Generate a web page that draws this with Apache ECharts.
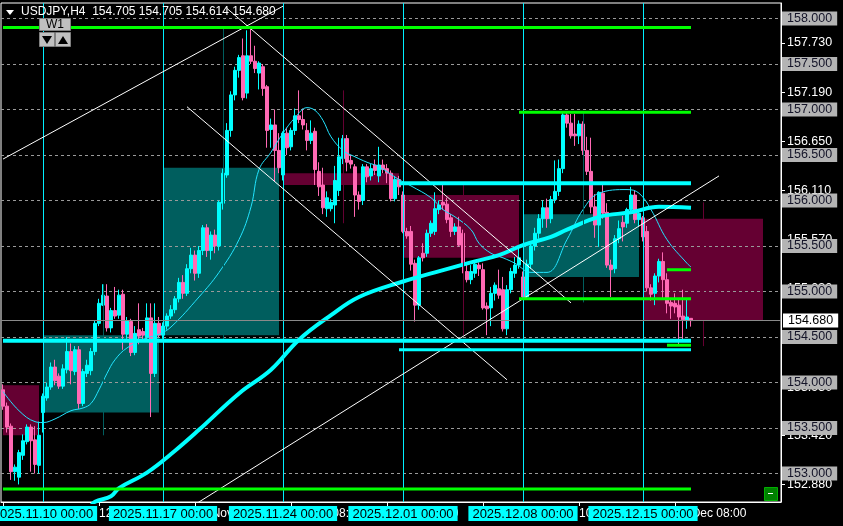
<!DOCTYPE html>
<html><head><meta charset="utf-8">
<script src="https://cdn.jsdelivr.net/npm/echarts@6/dist/echarts.min.js"></script>
<style>html,body{margin:0;padding:0;background:#000;}#c{width:843px;height:526px;}</style>
</head><body><div id="c"></div>
<script>
// ---------------- DATA ----------------
const symbolName = 'USDJPY,H4';
const opens = [153.92,153.74,153.52,153.02,152.96,153.20,153.35,153.51,153.37,153.09,
153.67,153.83,153.95,154.17,154.07,153.96,154.14,154.34,154.12,154.36,153.77,154.10,154.13,154.34,154.65,154.85,154.95,154.60,154.79,154.74,154.97,154.53,154.67,154.33,154.58,154.56,154.50,154.71,154.10,154.65,
154.52,154.62,154.73,154.80,154.92,155.10,154.98,155.25,155.40,155.20,155.45,155.70,155.45,155.62,155.50,155.97,156.28,156.77,157.16,157.43,157.59,157.18,157.59,157.53,157.40,157.47,157.25,156.78,156.83,156.55,
156.28,156.74,156.59,156.77,156.93,156.89,156.77,156.66,156.76,156.32,156.17,155.91,155.91,155.95,156.11,156.46,156.68,156.44,156.37,156.06,156.00,156.37,156.27,156.39,156.27,156.39,156.35,156.30,156.02,156.23,
156.06,155.66,155.66,155.31,154.85,155.42,155.42,155.64,155.66,155.90,155.98,155.96,155.81,155.66,155.71,155.64,155.22,155.13,155.20,155.29,155.24,154.84,154.82,154.98,155.03,155.02,154.59,155.02,155.20,155.29,
155.16,154.94,155.30,155.50,155.64,155.80,155.92,155.80,156.01,156.10,156.35,156.94,156.85,156.73,156.71,156.84,156.55,156.32,155.93,155.73,156.08,155.87,155.29,155.25,155.58,155.76,155.75,155.90,156.06,155.79,
155.81,155.66,155.04,154.98,155.17,155.33,155.13,154.88,154.87,154.85,154.73,154.68,154.705];
const highs = [153.98,153.78,153.55,153.10,153.26,153.43,153.54,153.54,153.52,153.57,
153.88,154.00,154.22,154.25,154.10,154.20,154.50,154.43,154.40,154.40,154.15,154.25,154.38,154.68,154.92,155.08,155.08,154.82,155.05,155.02,155.02,154.72,154.70,154.62,154.87,154.60,154.87,154.87,154.87,154.72,
154.66,154.76,154.85,154.95,155.15,155.18,155.30,155.48,155.45,155.50,155.73,155.74,155.66,155.68,156.00,156.35,156.85,157.20,157.47,157.60,157.78,157.87,157.89,157.70,157.53,157.50,157.27,156.90,157.00,156.74,
156.76,156.80,156.80,157.01,157.21,157.01,156.85,156.88,156.80,156.42,156.36,156.10,156.02,156.38,156.69,156.72,156.72,156.50,156.40,156.10,156.40,156.40,156.40,156.45,156.59,156.45,156.40,156.33,156.27,156.27,
156.10,155.70,155.72,155.35,155.39,155.53,155.68,155.78,156.09,156.00,156.17,156.03,155.85,155.75,155.82,155.68,155.30,155.29,155.33,155.32,155.31,154.88,155.05,155.10,155.24,155.16,155.07,155.26,155.38,155.50,
155.22,155.35,155.55,155.70,155.85,156.00,156.02,156.05,156.44,156.45,156.96,156.96,156.95,156.95,156.88,156.87,156.70,156.69,156.07,156.10,156.17,155.97,155.35,155.62,155.78,155.83,155.92,156.15,156.11,155.90,
155.83,155.72,155.08,155.20,155.36,155.43,155.20,154.93,154.98,154.92,155.02,154.92,154.705];
const lows = [153.70,153.45,152.93,152.92,152.88,153.15,153.32,153.02,153.00,153.00,
153.45,153.80,153.92,153.97,153.93,153.93,154.10,153.98,154.08,153.71,153.74,154.06,154.08,154.30,154.62,154.84,154.56,154.55,154.70,154.70,154.36,154.48,154.29,154.30,154.42,154.46,154.47,153.62,154.06,154.50,
154.48,154.58,154.70,154.76,154.88,154.92,154.95,155.20,155.12,155.15,155.40,155.38,155.35,155.42,155.45,155.90,156.25,156.70,157.10,157.35,157.10,157.12,157.50,157.40,157.22,157.15,156.58,156.58,156.21,156.30,
156.22,156.50,156.55,156.72,156.85,156.78,156.55,156.62,156.17,156.05,155.85,155.82,155.88,155.75,156.05,156.40,156.32,156.35,155.82,155.90,155.95,156.20,156.22,156.28,156.20,156.30,156.19,155.99,155.99,156.06,
155.64,155.58,155.23,154.67,154.80,155.33,155.38,155.60,155.62,155.85,155.90,155.75,155.60,155.62,155.49,155.20,155.10,155.08,155.15,155.17,154.80,154.52,154.62,154.90,154.92,154.56,154.52,154.98,155.15,155.25,
154.92,154.92,155.25,155.45,155.58,155.70,155.70,155.75,155.97,156.05,156.30,156.80,156.68,156.60,156.62,156.50,156.28,155.86,155.59,155.49,155.80,155.26,154.94,155.20,155.53,155.55,155.70,155.86,155.75,155.72,
155.55,155.00,154.90,154.85,155.10,154.91,154.76,154.70,154.76,154.41,154.47,154.59,154.614];
const closes = [153.74,153.51,153.02,153.07,153.23,153.36,153.51,153.36,153.10,153.42,
153.85,153.95,154.17,154.02,153.96,154.15,154.34,154.13,154.36,153.77,154.12,154.19,154.34,154.65,154.87,154.96,154.60,154.79,154.73,154.96,154.53,154.68,154.33,154.54,154.51,154.52,154.71,154.10,154.65,154.52,
154.62,154.73,154.80,154.92,155.10,154.98,155.25,155.40,155.20,155.45,155.70,155.45,155.62,155.50,155.98,156.30,156.77,157.16,157.43,157.57,157.13,157.59,157.53,157.45,157.51,157.23,156.77,156.83,156.55,156.36,
156.74,156.58,156.77,156.93,156.89,156.83,156.66,156.74,156.34,156.15,155.92,156.03,155.98,156.22,156.48,156.68,156.42,156.40,156.06,155.99,156.37,156.26,156.35,156.33,156.39,156.34,156.30,156.02,156.23,156.15,
155.66,155.61,155.30,154.85,155.37,155.37,155.64,155.75,155.91,155.95,155.95,155.79,155.66,155.71,155.51,155.31,155.13,155.22,155.30,155.25,154.82,154.81,154.98,155.07,154.96,154.59,155.02,155.22,155.29,155.37,
154.94,155.30,155.50,155.64,155.80,155.92,155.80,156.01,156.10,156.35,156.94,156.85,156.71,156.71,156.84,156.55,156.32,155.93,155.73,156.09,155.86,155.29,155.24,155.58,155.69,155.71,155.90,156.06,155.79,155.86,
155.60,155.04,154.97,155.17,155.33,155.13,154.87,154.84,154.83,154.72,154.69,154.72,154.680];

// thin moving average: bar index -> price
const thinMaIdx = [0,4,8,10,13,17,20,22,24,26,28,31,36,39,42,49,54,59,62,64,67,70,73,76,78,80,82,85,88,91,94,99,102,107,110,113,117,119,122,125,128,132,136,141,145,149,156,159,162,166,171,172];
const thinMaVal = [153.90,153.69,153.57,153.56,153.60,153.69,153.72,153.77,153.92,154.10,154.25,154.38,154.49,154.53,154.61,154.94,155.21,155.57,155.93,156.34,156.53,156.74,156.91,157.02,156.99,156.88,156.70,156.55,156.48,156.42,156.37,156.23,156.16,156.03,155.90,155.82,155.68,155.53,155.42,155.37,155.31,155.21,155.21,155.57,155.90,156.08,156.12,156.08,155.90,155.57,155.31,155.27];
// thick moving average
const thickMaIdx = [22,23,27,29,36,43,49,59,67,74,82,89,100,108,117,124,130,137,141,149,157,164,172];
const thickMaVal = [152.64,152.69,152.75,152.84,153.01,153.25,153.48,153.88,154.14,154.47,154.74,154.94,155.11,155.21,155.32,155.40,155.51,155.60,155.68,155.82,155.87,155.93,155.92];

// weekly candle overlay
const weekFirstBar = [0,10,40,70,100,130,160];
const weekLastBar  = [9,39,69,99,129,159,190];
const weekOpen  = [153.97,153.67,154.52,156.30,156.06,155.16,155.80];
const weekClose = [153.42,154.52,156.36,156.17,155.37,155.85,154.68];
const weekHigh  = [null,155.08,157.89,157.21,156.17,156.96,155.98];
const weekLow   = [null,153.42,154.45,155.75,154.52,154.88,154.40];
const weekWickBar = [null,25,55,85,115,145,175];

// trend lines (bar index, price)
const trendFromIdx = [0,56,46,48];
const trendFromPrice = [156.455,158.11,157.03,152.66];
const trendToIdx = [70,142,126,179];
const trendToPrice = [158.135,154.875,154.03,156.27];

// horizontal level lines
const greenLevels = [157.90,152.83,156.97,154.92,155.24,154.41];
const greenFrom = [0,0,129,129,166,166];
const greenTo = [172,172,172,172,172,172];
const cyanLevels = [156.19,154.46,154.36];
const cyanFrom = [99,0,99];
const cyanTo = [172,172,172];

// price axis labels
const gridPrices = [153.0,153.5,154.0,154.5,155.0,155.5,156.0,156.5,157.0,157.5,158.0];
const levelPrices = [152.88,153.42,153.95,154.49,155.03,155.57,156.11,156.65,157.19,157.73];
const bidPrice = 154.680;

// time: first bar Thu 2025-11-06 08:00, H4 bars, weekends skipped
const firstBarTime = Date.UTC(2025,10,6,8,0);
const barSlots = 195;
const timeLabelStep = 24;

// ---------------- BUILD ----------------
const MON = ['Jan','Feb','Mar','Apr','May','Jun','Jul','Aug','Sep','Oct','Nov','Dec'];
const p2 = n => String(n).padStart(2,'0');
const times = [];
for (let t = firstBarTime; times.length < barSlots; t += 4*3600e3) {
  const d = new Date(t); const wd = d.getUTCDay();
  if (wd !== 0 && wd !== 6) times.push(d);
}
const categories = times.map(d => d.getUTCFullYear()+'.'+p2(d.getUTCMonth()+1)+'.'+p2(d.getUTCDate())+' '+p2(d.getUTCHours())+':'+p2(d.getUTCMinutes()));
const shortLabel = i => { const d = times[i]; return d.getUTCDate()+' '+MON[d.getUTCMonth()]+' '+p2(d.getUTCHours())+':'+p2(d.getUTCMinutes()); };
const lastBar = opens.length - 1;
const showTime = idx => idx % timeLabelStep === 0 && idx <= lastBar;

const candleData = opens.map((o,i) => [o, closes[i], lows[i], highs[i]]);
const thinMa = thinMaIdx.map((x,i) => [x, thinMaVal[i]]);
const thickMa = thickMaIdx.map((x,i) => [x, thickMaVal[i]]);

const TEAL = '#005e5e', MAROON = '#650032';
const boxAreas = weekFirstBar.map((f,i) => [
  {xAxis: f, yAxis: weekOpen[i], itemStyle: {color: weekClose[i] >= weekOpen[i] ? TEAL : MAROON}},
  {xAxis: weekLastBar[i], yAxis: weekClose[i]}
]);
const wickLines = [];
weekWickBar.forEach((b,i) => {
  if (b == null) return;
  wickLines.push([{coord:[b, weekHigh[i]], lineStyle:{color: weekClose[i] >= weekOpen[i] ? TEAL : MAROON, width:1, type:'solid'}},
                  {coord:[b, weekLow[i]]}]);
});
const weekSepLines = weekFirstBar.slice(1).map(b => ({xAxis: b, label: {formatter: categories[b]}}));

const series = [];
series.push({type:'line', name:'weeks', data:[], z:1, silent:true, clip:true,
  markArea:{silent:true, data: boxAreas, itemStyle:{opacity:1}},
  markLine:{silent:true, symbol:['none','none'], data: wickLines, label:{show:false}}
});
series.push({type:'line', name:'sep', data:[], z:2, silent:true, clip:false,
  markLine:{silent:true, symbol:['none','none'], animation:false,
    lineStyle:{color:'#00f0ff', width:1, type:'solid'},
    label:{show:true, position:'start', distance:4, color:'#000', backgroundColor:'#00ffff',
      padding:[1,4,0,4], fontSize:13, lineHeight:14, fontFamily:'Liberation Sans, Arial, sans-serif'},
    data: weekSepLines}
});
series.push({type:'line', name:'bid', data:[], z:2, silent:true, clip:false,
  markLine:{silent:true, symbol:['none','none'], lineStyle:{color:'#8a8a8a', width:1, type:'solid'},
    label:{show:true, position:'end', distance:2, formatter: () => bidPrice.toFixed(3), color:'#000', backgroundColor:'#ffffff',
      padding:[1,5,0,5], fontSize:12.5, lineHeight:13, fontFamily:'Liberation Sans, Arial, sans-serif'},
    data:[{yAxis: bidPrice}]}
});
series.push({type:'candlestick', name:'USDJPY', data: candleData, z:3, barWidth:3,
  itemStyle:{color:'#00ffff', color0:'#ff69b4', borderColor:'#00ffff', borderColor0:'#ff69b4', borderWidth:1}});
series.push({type:'line', name:'maThick', data: thickMa, z:4, smooth:0.4, showSymbol:false, silent:true,
  lineStyle:{color:'#00ffff', width:4}});
series.push({type:'line', name:'maThin', data: thinMa, z:4, smooth:0.4, showSymbol:false, silent:true,
  lineStyle:{color:'#22e4ff', width:1}});
trendFromIdx.forEach((f,i) => series.push({type:'line', data:[[f, trendFromPrice[i]],[trendToIdx[i], trendToPrice[i]]],
  z:5, showSymbol:false, silent:true, lineStyle:{color:'#ffffff', width:1}}));
greenLevels.forEach((lv,i) => series.push({type:'line', data:[[greenFrom[i], lv],[greenTo[i], lv]],
  z:5, showSymbol:false, silent:true, lineStyle:{color:'#00ff00', width:3}}));
const cyanWidths = [4,4,3];
cyanLevels.forEach((lv,i) => series.push({type:'line', data:[[cyanFrom[i], lv],[cyanTo[i], lv]],
  z:5, showSymbol:false, silent:true, lineStyle:{color:'#00ffff', width:cyanWidths[i]}}));

const yMin = 152.687, yMax = 158.170;
const FONT = 'Liberation Sans, Arial, sans-serif';
const headerText = symbolName + '  ' + opens[lastBar].toFixed(3) + ' ' + highs[lastBar].toFixed(3) + ' ' + lows[lastBar].toFixed(3) + ' ' + closes[lastBar].toFixed(3);

const option = {
  backgroundColor:'#000',
  animation:false,
  grid:{left:1, right:62, top:3, bottom:24, show:true, borderColor:'#ffffff', borderWidth:1, backgroundColor:'rgba(0,0,0,0)'},
  xAxis:{type:'category', data: categories, boundaryGap:true,
    axisLine:{show:true, lineStyle:{color:'#ffffff'}},
    axisTick:{show:true, interval: showTime, alignWithLabel:true, length:4, lineStyle:{color:'#ffffff'}},
    axisLabel:{show:true, interval: showTime, color:'#ffffff', align:'left', fontSize:12, fontFamily:FONT, margin:6,
      formatter:(v, idx) => shortLabel(idx)},
    splitLine:{show:false}},
  yAxis:[
    {type:'value', position:'right', min:yMin, max:yMax, z:3,
      axisLine:{show:true, lineStyle:{color:'#ffffff'}},
      axisTick:{show:true, customValues: gridPrices, length:4, lineStyle:{color:'#ffffff'}},
      axisLabel:{show:true, customValues: gridPrices, formatter: v => v.toFixed(3), color:'#141428', backgroundColor:'#b4b4b4',
        padding:[1,5,0,5], margin:1, fontSize:12.5, lineHeight:13, fontFamily:FONT},
      splitLine:{show:true, lineStyle:{color:'#9a9a9a', width:1, type:[3,3]}}},
    {type:'value', position:'right', min:yMin, max:yMax, z:2,
      axisLine:{show:false},
      axisTick:{show:true, customValues: levelPrices, length:4, lineStyle:{color:'#ffffff'}},
      axisLabel:{show:true, customValues: levelPrices, formatter: v => v.toFixed(3), color:'#ffffff',
        padding:[1,5,0,5], margin:1, fontSize:12.5, lineHeight:13, fontFamily:FONT},
      splitLine:{show:false}}
  ],
  series: series,
  graphic:[
    {type:'polygon', z:100, shape:{points:[[6,10],[14,10],[10,15]]}, style:{fill:'#ffffff'}},
    {type:'text', z:100, x:21, y:12, style:{text: headerText, fill:'#ffffff', font:'12px '+FONT, verticalAlign:'middle'}},
    {type:'rect', z:100, shape:{x:39.5, y:18.5, width:31, height:12}, style:{fill:'#c0c0c0', stroke:'#808080', lineWidth:1}},
    {type:'text', z:101, x:55, y:25, style:{text:'W1', fill:'#000000', font:'12px '+FONT, align:'center', verticalAlign:'middle'}},
    {type:'rect', z:100, shape:{x:39.5, y:32.5, width:15, height:14}, style:{fill:'#c0c0c0', stroke:'#808080', lineWidth:1}},
    {type:'rect', z:100, shape:{x:55.5, y:32.5, width:15, height:14}, style:{fill:'#c0c0c0', stroke:'#808080', lineWidth:1}},
    {type:'polygon', z:101, shape:{points:[[42,36],[52,36],[47,44]]}, style:{fill:'#000000'}},
    {type:'polygon', z:101, shape:{points:[[58,44],[68,44],[63,36]]}, style:{fill:'#000000'}},
    {type:'rect', z:100, shape:{x:764.5, y:487.5, width:13, height:13}, style:{fill:'#008000', stroke:'#00b000', lineWidth:1}},
    {type:'rect', z:101, shape:{x:768, y:493, width:5, height:1}, style:{fill:'#ffffff'}}
  ]
};
const chart = echarts.init(document.getElementById('c'), null, {renderer:'canvas'});
chart.setOption(option);
</script></body></html>
